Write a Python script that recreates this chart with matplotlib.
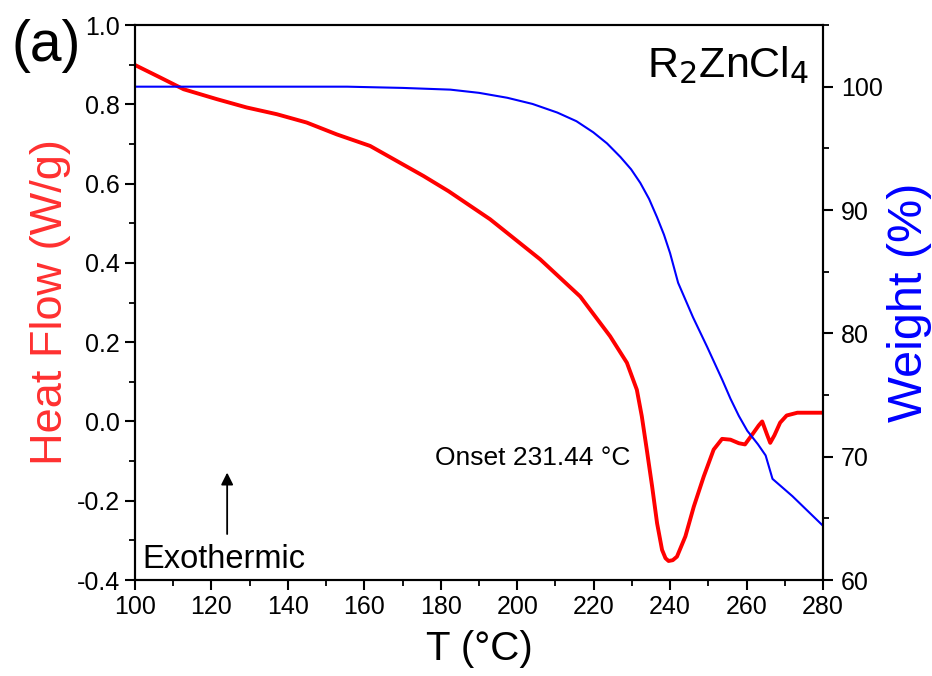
import matplotlib
matplotlib.use("Agg")
import matplotlib.pyplot as plt
from matplotlib.ticker import MultipleLocator

plt.rcParams['font.family'] = ['Liberation Sans', 'DejaVu Sans']

# Heat flow (DSC) data
T_hf = [100, 106.5, 112.7, 121.4, 129.2, 137.1, 144.9, 152.8, 161.5, 168.5, 175.5, 182,
        192.9, 206, 216.5, 224.3, 228.7, 231.3, 232.6, 233.9, 235.3, 236.6, 237.9,
        238.8, 239.6, 240.7, 241.8, 244, 246.2, 248.8, 251.4, 253.6, 255.8, 258, 259.6,
        261.8, 263.2, 264.1, 265.4, 266.2, 267.3, 268.8, 270.5, 273.3, 280]
heat_flow = [0.899, 0.868, 0.838, 0.813, 0.792, 0.775, 0.754, 0.724, 0.695, 0.657, 0.619,
             0.581, 0.510, 0.409, 0.315, 0.215, 0.148, 0.08, 0.013, -0.071, -0.164,
             -0.257, -0.324, -0.345, -0.352, -0.35, -0.341, -0.29, -0.215, -0.139, -0.071,
             -0.044, -0.046, -0.055, -0.058, -0.029, -0.01, 0.0, -0.034, -0.054, -0.035,
             -0.003, 0.015, 0.022, 0.022]

# Weight (TGA) data
T_w = [100, 140, 155.5, 170, 182.5, 190, 197.4, 204, 210.5, 215.5, 219.9, 223.5, 227,
       229.8, 232.2, 234.5, 236.6, 238.4, 240, 242.1, 246, 249.7, 253.7, 255.8, 258,
       260.2, 263, 265, 266.8, 272, 280]
weight = [100, 100, 100, 99.9, 99.76, 99.5, 99.1, 98.6, 97.9, 97.2, 96.3, 95.4, 94.3,
          93.3, 92.2, 90.9, 89.4, 88.0, 86.5, 84.1, 81.3, 78.9, 76.2, 74.7, 73.3,
          72.1, 71.0, 70.1, 68.2, 66.8, 64.4]

x_ticks = [100, 120, 140, 160, 180, 200, 220, 240, 260, 280]
hf_ticks = [-0.4, -0.2, 0.0, 0.2, 0.4, 0.6, 0.8, 1.0]
w_ticks = [60, 70, 80, 90, 100]

fig = plt.figure(figsize=(9.32, 6.76), dpi=100)
ax = fig.add_axes([0.1449, 0.142, 0.883 - 0.1449, 0.963 - 0.142])
ax2 = ax.twinx()

ax.plot(T_hf, heat_flow, color='#ff0000', lw=2.8, solid_joinstyle='round',
        solid_capstyle='round')
ax2.plot(T_w, weight, color='#0000ff', lw=1.5, solid_joinstyle='round')

ax.set_xlim(100, 280)
ax.set_ylim(-0.4, 1.0)
ax2.set_ylim(60, 105)

ax.set_xticks(x_ticks)
ax.set_yticks(hf_ticks)
ax.set_yticklabels([f"{v:.1f}" for v in hf_ticks])
ax2.set_yticks(w_ticks)
ax.xaxis.set_minor_locator(MultipleLocator(10))
ax.yaxis.set_minor_locator(MultipleLocator(0.1))
ax2.yaxis.set_minor_locator(MultipleLocator(5))

for a in (ax, ax2):
    for s in a.spines.values():
        s.set_linewidth(1.5)
    a.tick_params(which='major', direction='out', length=7, width=1.5, labelsize=18, pad=4)
    a.tick_params(which='minor', direction='out', length=4, width=1.3)
ax.tick_params(axis='x', top=False, which='both')
ax.tick_params(axis='y', right=False, which='both')
ax2.tick_params(axis='y', which='major', pad=6)

ax.set_xlabel('T (°C)', fontsize=29, labelpad=8)
ax.set_ylabel('Heat Flow (W/g)', fontsize=32.5, color='#ff3030', labelpad=4)
ax2.set_ylabel('Weight (%)', fontsize=35, color='#0000ff', labelpad=3)

fig.text(0.012, 0.932, '(a)', fontsize=41, va='center', ha='left')
ax.text(0.98, 0.965, r'R$_2$ZnCl$_4$', transform=ax.transAxes, fontsize=31,
        ha='right', va='top')
ax.text(178.5, -0.092, 'Onset 231.44 °C', fontsize=19, va='center', ha='left')
ax.text(102, -0.37, 'Exothermic', fontsize=23.5, va='baseline', ha='left')
ax.annotate('', xy=(124.1, -0.122), xytext=(124.1, -0.291),
            arrowprops=dict(arrowstyle='-|>', color='black', lw=1.3, mutation_scale=18))

fig.savefig('out.png', dpi=100)
